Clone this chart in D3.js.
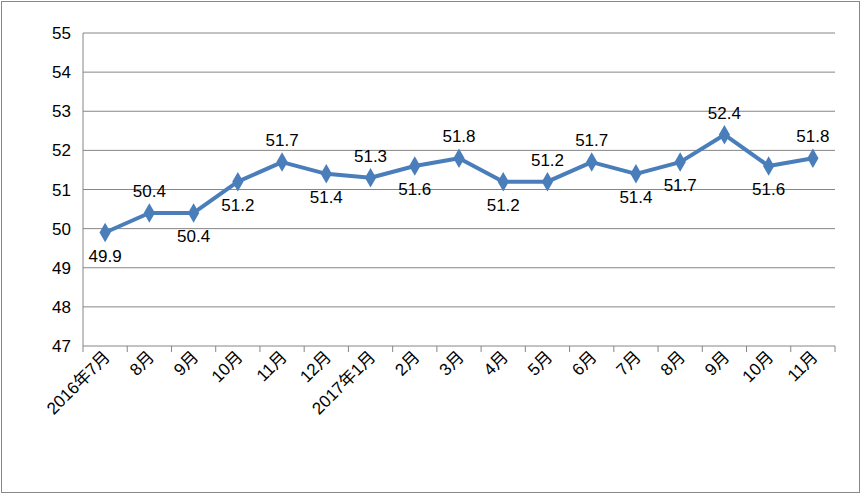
<!DOCTYPE html>
<html><head><meta charset="utf-8">
<script src="https://cdn.jsdelivr.net/npm/d3@7"></script>
<style>body{margin:0;background:#fff}text{font-family:"Liberation Sans","Noto Sans CJK SC",sans-serif}</style>
</head><body>
<svg id="c" width="868" height="500"></svg>
<script>
const months = ["2016年7月","8月","9月","10月","11月","12月","2017年1月","2月","3月","4月","5月","6月","7月","8月","9月","10月","11月"];
const values = [49.9,50.4,50.4,51.2,51.7,51.4,51.3,51.6,51.8,51.2,51.2,51.7,51.4,51.7,52.4,51.6,51.8];
// label above (1) or below (0) the point
const labelAbove = [0,1,0,0,1,0,1,0,1,0,1,1,0,0,1,0,1];
const yTicks = [47,48,49,50,51,52,53,54,55];

const svg = d3.select("#c");
svg.append("rect").attr("x",1.5).attr("y",1.5).attr("width",858).attr("height",491)
	.attr("fill","none").attr("stroke","#888");

const pLeft = 83, pRight = 835, pTop = 33, pBottom = 346;
const ids = months.map((m,i) => i);
const x = d3.scaleBand().domain(ids).range([pLeft, pRight]);
const y = d3.scaleLinear().domain([47,55]).range([pBottom, pTop]);

// gridlines
svg.append("g").selectAll("line").data(yTicks).join("line")
	.attr("x1", pLeft).attr("x2", pRight)
	.attr("y1", d => y(d)).attr("y2", d => y(d))
	.attr("stroke","#868686").attr("stroke-width",1);

// y axis
svg.append("line").attr("x1",pLeft).attr("x2",pLeft).attr("y1",pTop).attr("y2",pBottom).attr("stroke","#868686");
svg.append("g").selectAll("text").data(yTicks).join("text")
	.attr("x", pLeft-12).attr("y", d => y(d)+6)
	.attr("text-anchor","end").attr("font-size",17).text(d => d);

// x tick marks
const bounds = ids.map(i => x(i)).concat([pRight]);
svg.append("g").selectAll("line").data(bounds).join("line")
	.attr("x1", d => d).attr("x2", d => d).attr("y1", pBottom).attr("y2", pBottom+6)
	.attr("stroke","#868686");

// x labels
svg.append("g").selectAll("text").data(months).join("text")
	.attr("transform", (d,i) => `translate(${x(i)+x.bandwidth()/2+6},${pBottom+12}) rotate(-45)`)
	.attr("text-anchor","end").attr("font-size",17).text(d => d);

// line
const cx = i => x(i) + x.bandwidth()/2;
svg.append("path").datum(values)
	.attr("d", d3.line().x((d,i) => cx(i)).y(d => y(d)))
	.attr("fill","none").attr("stroke","#4a7ebb").attr("stroke-width",4).attr("stroke-linejoin","round");

svg.append("g").selectAll("path").data(values).join("path")
	.attr("transform", (d,i) => `translate(${cx(i)},${y(d)})`)
	.attr("d", d3.symbol(d3.symbolDiamond, 110))
	.attr("fill","#4a7ebb");

svg.append("g").selectAll("text").data(values).join("text")
	.attr("x", (d,i) => cx(i))
	.attr("y", (d,i) => labelAbove[i] ? y(d)-16 : y(d)+29)
	.attr("text-anchor","middle").attr("font-size",17).text(d => d.toFixed(1));
</script>
</body></html>
